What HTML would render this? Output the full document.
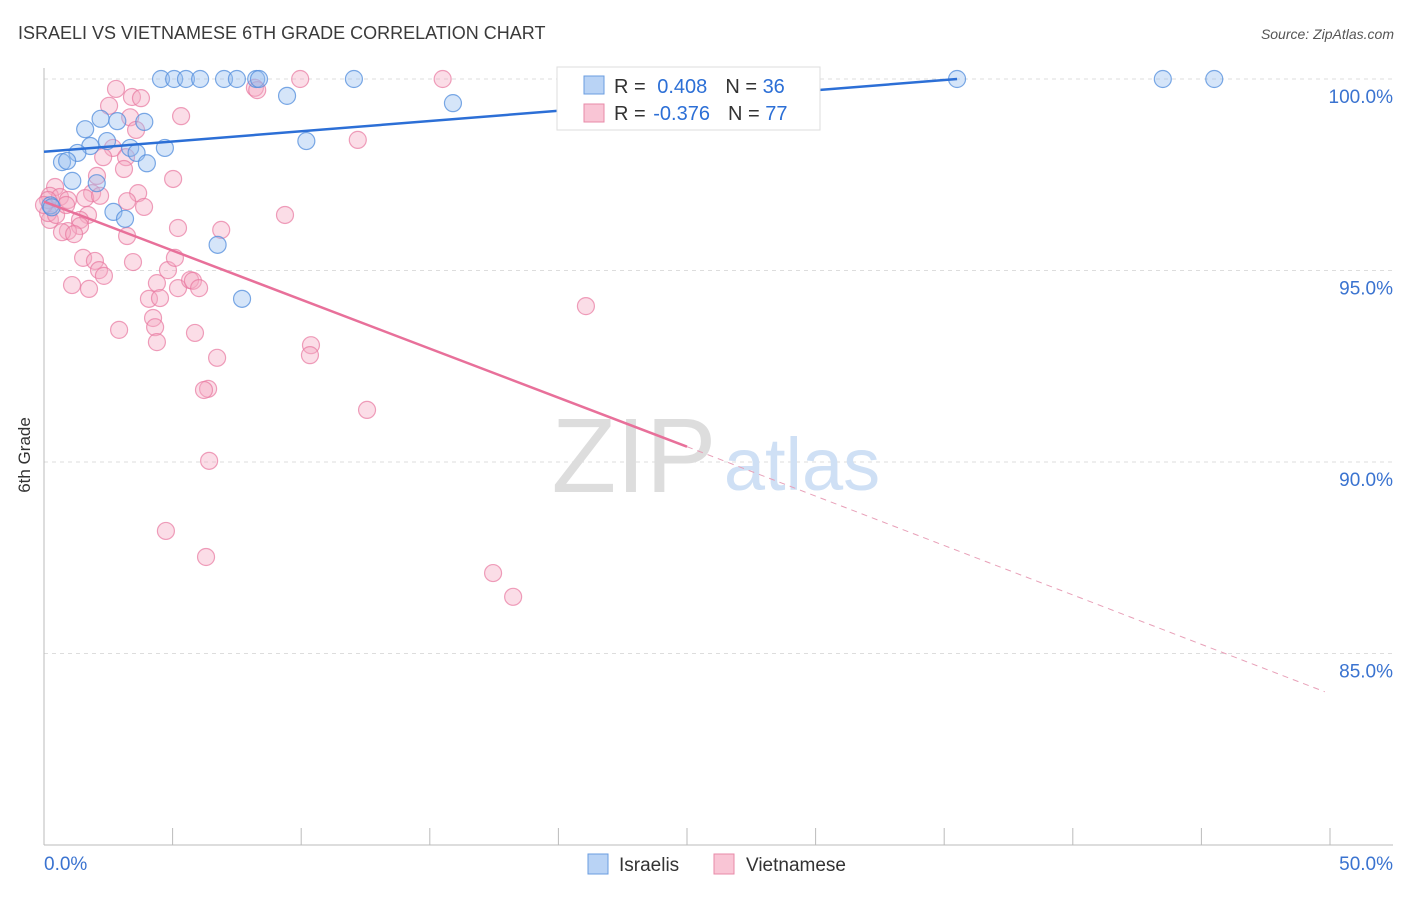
<!DOCTYPE html>
<html><head><meta charset="utf-8"><style>
body{margin:0;background:#fff;font-family:"Liberation Sans",sans-serif}
svg text{font-family:"Liberation Sans",sans-serif}
</style></head><body>
<svg width="1406" height="892" xmlns="http://www.w3.org/2000/svg">
<text x="18" y="39" font-size="18" fill="#3a3a3a">ISRAELI VS VIETNAMESE 6TH GRADE CORRELATION CHART</text>
<text x="1394" y="39" font-size="14" fill="#555" text-anchor="end" font-style="italic">Source: ZipAtlas.com</text>
<text x="30" y="455" font-size="17" fill="#333" transform="rotate(-90 30 455)" text-anchor="middle">6th Grade</text>
<g id="grid"></g>
<g><text x="634" y="492" font-size="106" fill="#ddd" font-family="Liberation Serif" text-anchor="middle">ZIP</text><text x="802" y="490" font-size="74" fill="#cfe0f5" text-anchor="middle">atlas</text></g>
<g id="pts"></g>
<g id="lines"></g>
<g>
<rect x="557" y="67" width="263" height="63" fill="#fff" stroke="#ddd"/>
<rect x="584" y="76" width="20" height="18" fill="#b9d3f5" stroke="#6a9de0"/>
<rect x="584" y="104" width="20" height="18" fill="#f9c5d5" stroke="#e88aa8"/>
<text x="614" y="93" font-size="20" fill="#333">R = <tspan fill="#2c6fd6" dx="6">0.408</tspan><tspan dx="18">N = </tspan><tspan fill="#2c6fd6">36</tspan></text>
<text x="614" y="120" font-size="20" fill="#333">R = <tspan fill="#2c6fd6" dx="2">-0.376</tspan><tspan dx="18">N = </tspan><tspan fill="#2c6fd6">77</tspan></text>
</g>
<g>
<rect x="588" y="854" width="20" height="20" fill="#b9d3f5" stroke="#6a9de0"/>
<text x="619" y="871" font-size="19" fill="#333">Israelis</text>
<rect x="714" y="854" width="20" height="20" fill="#f9c5d5" stroke="#e88aa8"/>
<text x="746" y="871" font-size="19" fill="#333">Vietnamese</text>
</g>
</svg>
<script>
const yTicks=[100,95,90,85];
const yTickLabels=["100.0%","95.0%","90.0%","85.0%"];
const xTicks=[0,5,10,15,20,25,30,35,40,45,50];
const israeliX=[4.55,5.06,5.52,6.07,7.0,7.5,8.25,8.36,12.05,35.5,43.5,45.5,9.45,15.9,10.2,1.6,2.2,2.85,3.9,2.45,1.8,3.35,4.7,1.3,3.6,0.7,0.9,4.0,1.1,2.05,0.25,2.7,3.15,6.75,7.7,0.3];
const israeliY=[100,100,100,100,100,100,100,100,100,100,100,100,99.56,99.37,98.38,98.69,98.96,98.9,98.88,98.38,98.25,98.2,98.2,98.07,98.07,97.83,97.86,97.8,97.34,97.28,96.7,96.53,96.35,95.67,94.26,96.65];
const vietX=[2.8,2.53,3.42,3.77,5.33,9.96,15.5,8.2,8.29,12.2,3.35,3.58,2.68,2.3,3.19,2.06,3.11,5.02,3.66,1.87,1.6,0.43,0.23,0.62,0.93,3.89,3.23,1.71,1.4,1.4,0.93,0.7,1.17,3.23,5.21,6.89,9.37,2.18,0.23,0.16,1.52,1.98,3.46,2.14,2.33,4.82,5.09,1.09,1.75,4.39,5.21,5.68,5.79,6.03,4.08,4.51,21.07,4.24,4.32,2.92,5.87,4.39,10.38,10.34,6.73,6.38,6.22,12.56,6.42,4.74,6.3,17.46,18.24,0.16,0.47,0,0.86];
const vietY=[99.74,99.3,99.53,99.5,99.03,100,100,99.77,99.71,98.41,99.0,98.67,98.2,97.96,97.96,97.47,97.65,97.39,97.02,97.02,96.89,97.18,96.95,96.92,96.84,96.66,96.81,96.45,96.32,96.16,96.03,96.0,95.95,95.9,96.11,96.06,96.45,96.95,96.32,96.5,95.33,95.25,95.22,95.01,94.86,95.01,95.33,94.62,94.52,94.67,94.54,94.75,94.73,94.54,94.26,94.28,94.07,93.76,93.52,93.45,93.37,93.13,93.05,92.79,92.72,91.91,91.88,91.36,90.03,88.2,87.52,87.1,86.48,96.84,96.45,96.71,96.71];
const blueTrend=[[0,98.1],[35.5,100]];
const pinkTrend=[[0,96.8],[25,90.4]];
const pinkDash=[[25,90.4],[49.8,84.0]];
const NS="http://www.w3.org/2000/svg";
const xs=v=>44+v*25.72, ys=v=>79+(100-v)*38.3;
function mk(t,a,p){const e=document.createElementNS(NS,t);for(const k in a)e.setAttribute(k,a[k]);p.appendChild(e);return e;}
const grid=document.getElementById('grid');
yTicks.forEach((t,i)=>{
 const l=mk('line',{x1:44,x2:1393,y1:ys(t),y2:ys(t),stroke:'#ddd','stroke-dasharray':'4,4'},grid);
 
 
 const tx=mk('text',{x:1393,y:ys(t)+24,'font-size':19,fill:'#3a73d0','text-anchor':'end'},grid);
 tx.textContent=yTickLabels[i];
 
 
});
const ax=mk('line',{x1:44,x2:44,y1:68,y2:845,stroke:'#bbb'},grid);


const bx=mk('line',{x1:44,x2:1393,y1:845,y2:845,stroke:'#bbb'},grid);


xTicks.forEach(t=>{const l=mk('line',{x1:xs(t),x2:xs(t),y1:828,y2:845,stroke:'#bbb'},grid);
 
 });
[[0,'0.0%','start',44],[50,'50.0%','end',1393]].forEach(d=>{const t=mk('text',{x:d[3],y:870,'font-size':19,fill:'#3a73d0','text-anchor':d[2]},grid);t.textContent=d[1];
 
 });
const pts=document.getElementById('pts');
vietX.forEach((x,i)=>{const c=mk('circle',{cx:xs(x),cy:ys(vietY[i]),r:8.5,fill:'rgba(245,170,195,0.4)',stroke:'rgba(232,120,160,0.7)','stroke-width':1.2},pts);
 
 });
israeliX.forEach((x,i)=>{const c=mk('circle',{cx:xs(x),cy:ys(israeliY[i]),r:8.5,fill:'rgba(150,190,240,0.4)',stroke:'rgba(80,140,220,0.75)','stroke-width':1.2},pts);
 
 });
const lines=document.getElementById('lines');
function ln(p,st,w,da,name){const l=mk('line',{x1:xs(p[0][0]),y1:ys(p[0][1]),x2:xs(p[1][0]),y2:ys(p[1][1]),stroke:st,'stroke-width':w},lines);if(da)l.setAttribute('stroke-dasharray',da);
 
 }
ln(blueTrend,'#2c6fd6',2.5,null,'israeli-trend-line');
ln(pinkTrend,'#e8709a',2.5,null,'vietnamese-trend-line');
ln(pinkDash,'#e8a0b8',1,'6,5','vietnamese-trend-extension');
</script>
</body></html>
